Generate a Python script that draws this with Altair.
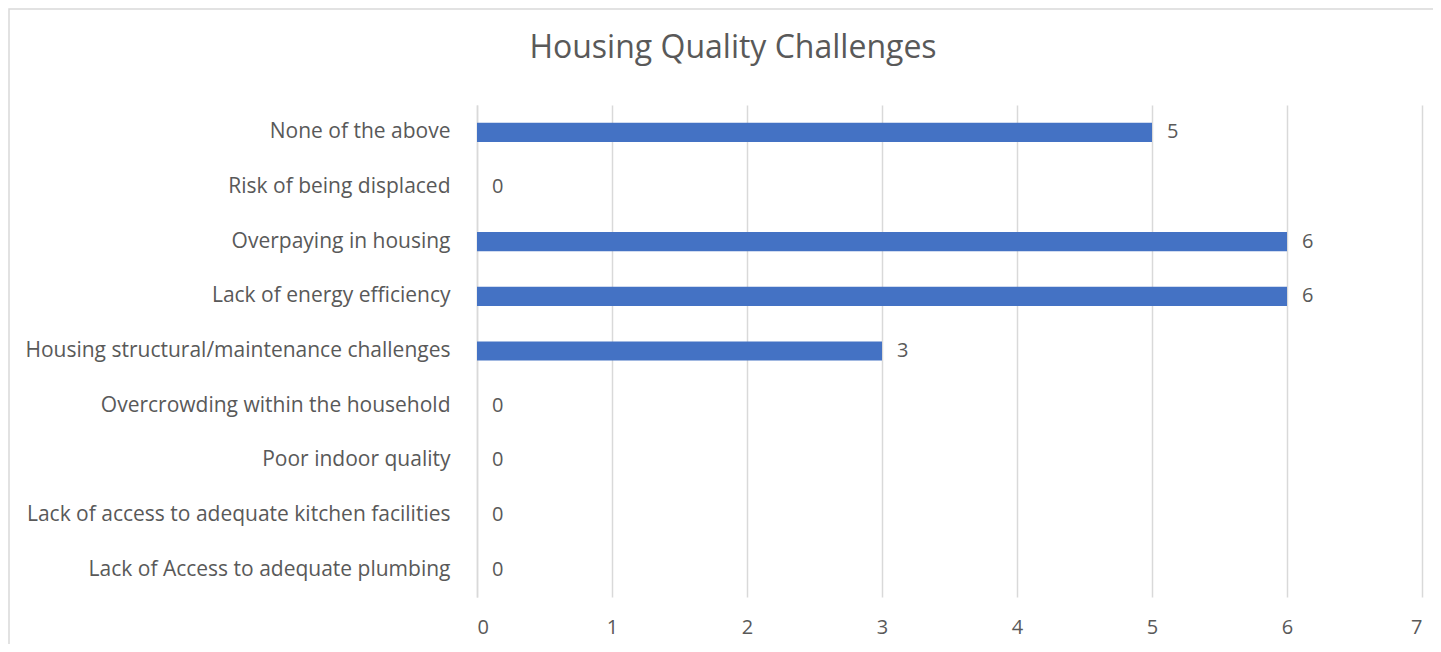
import altair as alt
import pandas as pd

categories = [
    "None of the above",
    "Risk of being displaced",
    "Overpaying in housing",
    "Lack of energy efficiency",
    "Housing structural/maintenance challenges",
    "Overcrowding within the household",
    "Poor indoor quality",
    "Lack of access to adequate kitchen facilities",
    "Lack of Access to adequate plumbing",
]
values = [5, 0, 6, 6, 3, 0, 0, 0, 0]
x_ticks = [0, 1, 2, 3, 4, 5, 6, 7]
title_text = "Housing Quality Challenges"

df = pd.DataFrame({"cat": categories, "val": values})

W, H = 945, 492
FONT = "Open Sans"
TXT = "#595959"
GRID = "#d9d9d9"

y_enc = alt.Y("cat:N", sort=categories, title=None,
              scale=alt.Scale(paddingInner=0.65, paddingOuter=0.325),
              axis=alt.Axis(labelFont=FONT, labelFontSize=21, labelColor=TXT,
                            labelPadding=27, ticks=False, domain=True,
                            domainColor=GRID, domainWidth=1.5, labelLimit=600))
x_enc = alt.X("val:Q", title=None,
              scale=alt.Scale(domain=[0, 7], nice=False),
              axis=alt.Axis(values=x_ticks, labelFont=FONT, labelFontSize=20,
                            labelColor=TXT, labelPadding=20, ticks=False,
                            domain=False, grid=True, gridColor=GRID,
                            gridWidth=1.5, format="d"))

bars = alt.Chart(df).mark_bar(color="#4472C4").encode(y=y_enc, x=x_enc)
labels = alt.Chart(df).mark_text(align="left", baseline="middle", dx=15,
                                  font=FONT, fontSize=20, color=TXT).encode(
    y=alt.Y("cat:N", sort=categories), x="val:Q", text="val:Q")

single = pd.DataFrame({"k": [0]})
border = alt.Chart(single).mark_rect(
    fillOpacity=0, stroke=GRID, strokeWidth=1.5).encode(
    x=alt.value(-468), x2=alt.value(W + 40),
    y=alt.value(-96), y2=alt.value(H + 80))

title = alt.Chart(single).mark_text(
    font=FONT, fontSize=32, color=TXT, align="center",
    baseline="alphabetic").encode(
    x=alt.value(256), y=alt.value(-47), text=alt.value(title_text))

chart = alt.layer(border, title, bars, labels).properties(
    width=W, height=H,
    autosize=alt.AutoSizeParams(type="none"),
    padding={"left": 469, "top": 97, "right": 11, "bottom": 47},
).configure_view(stroke=None)

chart.save("out.html", embed_options={"renderer": "svg", "actions": False})
